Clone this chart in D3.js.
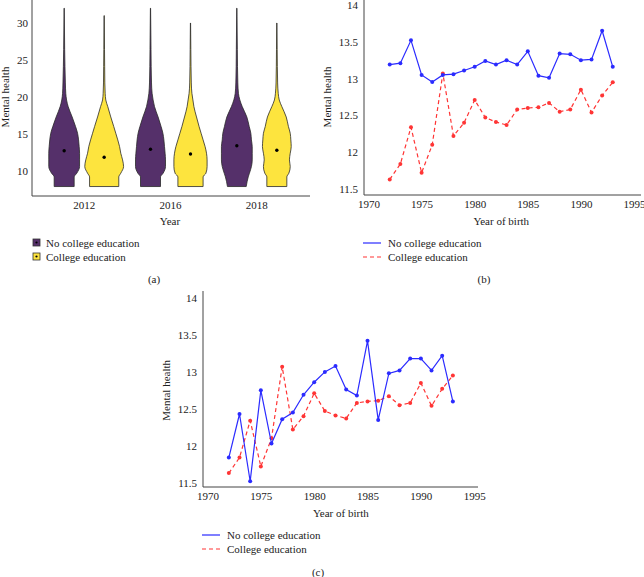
<!DOCTYPE html>
<html>
<head>
<meta charset="utf-8">
<script src="https://cdn.jsdelivr.net/npm/d3@7"></script>
<style>
  body { margin: 0; background: #fff; }
  svg text { font-family: "Liberation Serif", "Times New Roman", "DejaVu Serif", serif !important; fill: #222; }
  .axis-line { stroke: #444; stroke-width: 1; }
</style>
</head>
<body>
<svg id="chart" width="644" height="577"></svg>
<script>
// ---- data ----
const years = ["2012", "2016", "2018"];
const groups = ["No college education", "College education"];

// density profile grid for the violins (mental health score)
const violinGrid = [7.9, 9.2, 9.7, 10.6, 11.5, 12.4, 13.3, 14.2, 15.1, 16.0, 17.3, 18.7, 19.6, 20.5, 21.9, 24.1, 26.4];
// relative densities at each grid value; top value of each violin is kept separately
const violinNo2012 = [0.50, 0.50, 0.63, 0.77, 0.77, 0.77, 0.75, 0.72, 0.67, 0.57, 0.40, 0.20, 0.12, 0.08, 0.06, 0.04, 0.025];
const violinCol2012 = [0.73, 0.73, 0.83, 0.97, 0.92, 0.83, 0.77, 0.68, 0.58, 0.48, 0.33, 0.18, 0.08, 0.05, 0.033, 0.025, 0.017];
const violinNo2016 = [0.50, 0.50, 0.63, 0.75, 0.75, 0.73, 0.70, 0.67, 0.62, 0.53, 0.38, 0.20, 0.13, 0.08, 0.05, 0.033, 0.025];
const violinCol2016 = [0.63, 0.63, 0.77, 0.83, 0.83, 0.80, 0.73, 0.63, 0.53, 0.43, 0.30, 0.17, 0.12, 0.07, 0.04, 0.025, 0.017];
const violinNo2018 = [0.47, 0.57, 0.63, 0.73, 0.77, 0.77, 0.77, 0.73, 0.70, 0.62, 0.50, 0.27, 0.15, 0.08, 0.05, 0.033, 0.025];
const violinCol2018 = [0.50, 0.50, 0.60, 0.67, 0.63, 0.67, 0.72, 0.70, 0.67, 0.58, 0.47, 0.25, 0.12, 0.07, 0.04, 0.025, 0.017];
const violinTops = [32, 31, 32, 30, 32, 30];
const violinMeans = [12.74, 11.85, 12.93, 12.3, 13.42, 12.8];

// year-of-birth cohort means
const birthYears = d3.range(1972, 1994);
const collegeMeans = [11.63, 11.84, 12.34, 11.72, 12.10, 13.07, 12.22, 12.40, 12.71, 12.47, 12.41, 12.37, 12.58, 12.60, 12.61, 12.67, 12.55, 12.58, 12.85, 12.54, 12.77, 12.95];
const noCollegeMeansB = [13.19, 13.21, 13.52, 13.05, 12.955, 13.05, 13.06, 13.11, 13.16, 13.24, 13.19, 13.25, 13.19, 13.37, 13.04, 13.01, 13.34, 13.33, 13.25, 13.26, 13.65, 13.16];
const noCollegeMeansC = [11.84, 12.43, 11.52, 12.75, 12.03, 12.36, 12.45, 12.69, 12.86, 13.00, 13.08, 12.76, 12.68, 13.42, 12.35, 12.98, 13.02, 13.18, 13.18, 13.02, 13.22, 12.60];

const yearTicks = [1970, 1975, 1980, 1985, 1990, 1995];
const mhTicksLine = [11.5, 12, 12.5, 13, 13.5, 14];
const mhTicksViolin = [10, 15, 20, 25, 30];

const violinFill = ["#55306a", "#fde43e"];
const lineColor = ["#2b2bff", "#ff3535"];
const FONT = "Liberation Serif, Times New Roman, serif";

const svg = d3.select("#chart").attr("font-family", FONT);

function styleAxisText(axisG) {
  axisG.attr("font-family", FONT);
  axisG.select(".domain").remove();
  axisG.selectAll("text").attr("font-size", 11).attr("font-family", FONT).attr("fill", "#222");
}

// ---------------- panel (a): violins ----------------
function drawViolins() {
  const g = svg.append("g");
  const x = d3.scaleBand().domain(years).range([41, 300]);
  const y = d3.scaleLinear().domain([10, 30]).range([171, 23]);
  const w = d3.scaleLinear().domain([0, 1]).range([0, 20]);
  const xSub = d3.scaleBand().domain(groups)
    .range([x.bandwidth() / 2 - 40, x.bandwidth() / 2 + 40]);

  const profiles = [violinNo2012, violinCol2012, violinNo2016, violinCol2016, violinNo2018, violinCol2018];
  const violins = profiles.map((dens, i) => {
    const pts = violinGrid.map((v, j) => ({v: v, d: dens[j]}));
    pts.push({v: violinTops[i], d: 0.005});
    return {year: years[Math.floor(i / 2)], group: groups[i % 2], pts: pts, mean: violinMeans[i], gi: i % 2};
  });

  const area = d3.area()
    .y(d => y(d.v))
    .x0(d => -w(d.d))
    .x1(d => w(d.d))
    .curve(d3.curveMonotoneY);

  const vg = g.selectAll(".violin")
    .data(violins)
    .enter()
    .append("g")
    .attr("transform", d => `translate(${x(d.year) + xSub(d.group) + xSub.bandwidth() / 2},0)`);

  vg.append("path")
    .attr("d", d => area(d.pts))
    .attr("fill", d => violinFill[d.gi])
    .attr("stroke", "#2a2a2a")
    .attr("stroke-width", 0.8);

  vg.append("circle")
    .attr("cx", 0)
    .attr("cy", d => y(d.mean))
    .attr("r", 1.7)
    .attr("fill", "#000");

  // axes
  g.append("line").attr("class", "axis-line").attr("x1", 32).attr("x2", 32).attr("y1", 0).attr("y2", 196);
  g.append("line").attr("class", "axis-line").attr("x1", 32).attr("x2", 310).attr("y1", 196).attr("y2", 196);

  styleAxisText(g.append("g")
    .attr("transform", "translate(32,0)")
    .call(d3.axisLeft(y).tickValues(mhTicksViolin).tickSize(0).tickPadding(4)));

  styleAxisText(g.append("g")
    .attr("transform", "translate(0,196)")
    .call(d3.axisBottom(x).tickSize(0).tickPadding(5)));

  g.append("text").attr("transform", "translate(9,97) rotate(-90)")
    .attr("text-anchor", "middle").attr("font-size", 11).text("Mental health");
  g.append("text").attr("x", 170).attr("y", 225)
    .attr("text-anchor", "middle").attr("font-size", 11).text("Year");

  // legend
  const lg = g.selectAll(".leg").data(groups).enter().append("g")
    .attr("transform", (d, i) => `translate(33,${239 + i * 14})`);
  lg.append("rect").attr("width", 7).attr("height", 7)
    .attr("fill", (d, i) => violinFill[i]).attr("stroke", "#333").attr("stroke-width", 0.8);
  lg.append("circle").attr("cx", 3.5).attr("cy", 3.5).attr("r", 1.1).attr("fill", "#000");
  lg.append("text").attr("x", 13).attr("y", 7.5).attr("font-size", 11).text(d => d);

  g.append("text").attr("x", 154).attr("y", 283).attr("text-anchor", "middle").attr("font-size", 11).text("(a)");
}

// ---------------- panels (b), (c): line charts ----------------
function drawLinePanel(opts) {
  const g = svg.append("g");
  const x = d3.scaleLinear().domain([1970, 1995]).range([opts.x0, opts.x1]);
  const y = d3.scaleLinear().domain([11.5, 14]).range([opts.yBottom, opts.yTop]);

  g.append("line").attr("class", "axis-line")
    .attr("x1", opts.axisX).attr("x2", opts.axisX).attr("y1", opts.axisTop).attr("y2", opts.axisY);
  g.append("line").attr("class", "axis-line")
    .attr("x1", opts.axisX).attr("x2", opts.axisRight).attr("y1", opts.axisY).attr("y2", opts.axisY);

  styleAxisText(g.append("g")
    .attr("transform", `translate(${opts.axisX},0)`)
    .call(d3.axisLeft(y).tickValues(mhTicksLine).tickFormat(d3.format("")).tickSize(0).tickPadding(6)));

  styleAxisText(g.append("g")
    .attr("transform", `translate(0,${opts.axisY})`)
    .call(d3.axisBottom(x).tickValues(yearTicks).tickFormat(d3.format("d")).tickSize(0).tickPadding(5)));

  const series = [
    {name: groups[0], values: opts.noCollege, color: lineColor[0], dash: null},
    {name: groups[1], values: collegeMeans, color: lineColor[1], dash: "4,3"}
  ];

  const line = d3.line()
    .x((d, i) => x(birthYears[i]))
    .y(d => y(d));

  // draw college (dashed) first, solid on top
  series.slice().reverse().forEach(s => {
    g.append("path")
      .datum(s.values)
      .attr("fill", "none")
      .attr("stroke", s.color)
      .attr("stroke-width", 1.2)
      .attr("stroke-dasharray", s.dash)
      .attr("d", line);
    g.selectAll(null)
      .data(s.values)
      .enter()
      .append("circle")
      .attr("cx", (d, i) => x(birthYears[i]))
      .attr("cy", d => y(d))
      .attr("r", 2)
      .attr("fill", s.color);
  });

  g.append("text").attr("transform", `translate(${opts.axisX - 33},${(opts.yTop + opts.yBottom) / 2}) rotate(-90)`)
    .attr("text-anchor", "middle").attr("font-size", 11).text("Mental health");
  g.append("text").attr("x", (opts.x0 + opts.x1) / 2).attr("y", opts.axisY + 30)
    .attr("text-anchor", "middle").attr("font-size", 11).text("Year of birth");

  const lg = g.selectAll(".leg").data(series).enter().append("g")
    .attr("transform", (d, i) => `translate(${opts.legX},${opts.legY + i * 14})`);
  lg.append("line").attr("x1", 0).attr("x2", 18).attr("y1", 0).attr("y2", 0)
    .attr("stroke", d => d.color).attr("stroke-width", 1.2).attr("stroke-dasharray", d => d.dash);
  lg.append("text").attr("x", 25).attr("y", 4).attr("font-size", 11).text(d => d.name);

  g.append("text").attr("x", opts.capX).attr("y", opts.capY).attr("text-anchor", "middle")
    .attr("font-size", 11).text(opts.caption);
}

drawViolins();

drawLinePanel({
  x0: 368.5, x1: 634, yBottom: 189, yTop: 5,
  axisX: 364, axisY: 195, axisTop: 0, axisRight: 641,
  noCollege: noCollegeMeansB,
  legX: 363, legY: 243, capX: 484, capY: 283, caption: "(b)"
});

drawLinePanel({
  x0: 207.5, x1: 474.2, yBottom: 482.7, yTop: 298,
  axisX: 203, axisY: 487, axisTop: 291, axisRight: 478,
  noCollege: noCollegeMeansC,
  legX: 202, legY: 535, capX: 318, capY: 576, caption: "(c)"
});
</script>
</body>
</html>
